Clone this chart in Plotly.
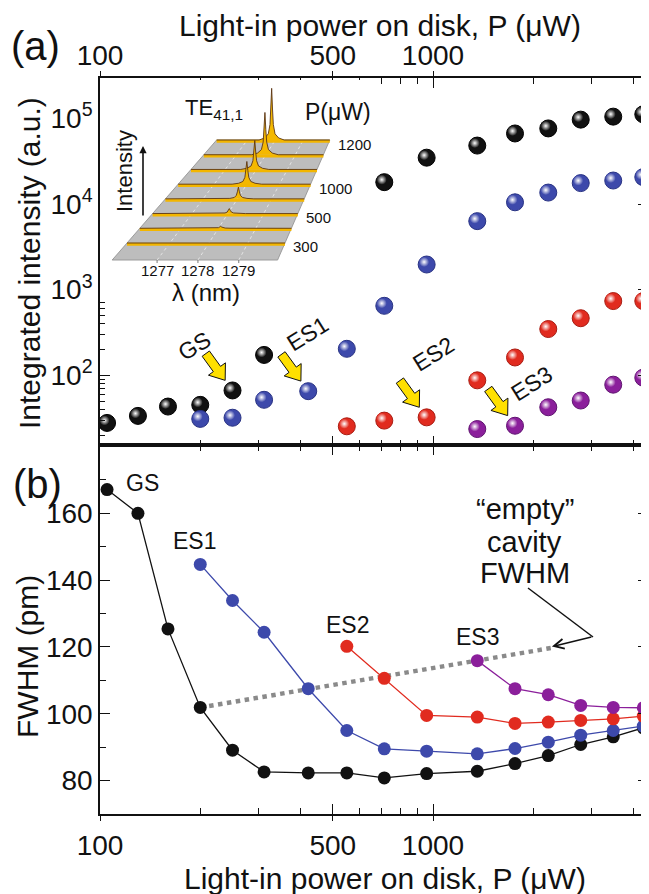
import math
import plotly.graph_objects as go

# ---------------- data ----------------
P = [105, 130, 160, 200, 250, 311, 422, 551, 714, 957, 1358, 1763, 2219, 2777, 3477, 4280]

# (a) integrated intensity
gs_int = [27.8, 33.6, 43.2, 45.2, 66.6, 173, 1358, 7160, 17990, 34750, 48100, 66600, 76300, 96600, 104700, 111400]
es1_P = P[3:]
es1_int = [31.0, 32.0, 51.8, 65.3, 204, 648, 1967, 6310, 10470, 13600, 17540, 18800, 20600]
es2_P = P[7:]
es2_int = [25.4, 29.6, 32.3, 87.4, 161.6, 347, 464, 736, 736]
es3_P = P[10:]
es3_int = [23.6, 25.8, 42.4, 50.8, 77.8, 94.0]

# (b) FWHM (pm)
gs_fwhm = [167.1, 160.0, 125.4, 101.9, 89.1, 82.6, 82.3, 82.3, 80.8, 82.1, 82.8, 85.1, 87.5, 90.8, 93.1, 95.8]
es1_fwhm = [144.7, 133.9, 124.4, 107.5, 95.0, 89.5, 88.8, 88.0, 89.6, 91.5, 93.6, 95.0, 96.3]
es2_fwhm = [120.2, 110.6, 99.5, 99.0, 97.1, 97.5, 98.0, 98.5, 99.3]
es3_fwhm = [115.9, 107.5, 105.7, 102.5, 101.9, 101.8]
empty_P = [200, 2270]
empty_fwhm = [101.9, 119.7]

# axis ticks
x_major = [100, 500, 1000]
x_minor = [200, 300, 400, 600, 700, 800, 900, 2000, 3000, 4000]
yt_major = [1e2, 1e3, 1e4, 1e5]
yt_text = ['10<sup>2</sup>', '10<sup>3</sup>', '10<sup>4</sup>', '10<sup>5</sup>']
yt_minor = [m * 10 ** e for e in range(1, 6) for m in range(2, 10) if 15 < m * 10 ** e < 3e5]
yb_major = [80, 100, 120, 140, 160]
yb_minor = [90, 110, 130, 150, 170]

# inset: waterfall spectra TE41,1
ins_peak_height = [0, 2, 5, 11.7, 22.7, 29, 42.3, 51.7]
ins_peak_lambda = [1278.05, 1278.06, 1278.04, 1278.03, 1278.0, 1277.95, 1277.97, 1277.87]
ins_profile_off = [-0.45, -0.25, -0.12, -0.06, -0.03, 0.0, 0.03, 0.06, 0.12, 0.25, 0.45]
ins_profile_rel = [0.0, 0.04, 0.12, 0.3, 0.6, 1.0, 0.6, 0.3, 0.12, 0.04, 0.0]
ins_lambda_ticks = [1277, 1278, 1279]
ins_power_idx = [0, 2, 4, 7]
ins_power_text = ['300', '500', '1000', '1200']

# ---------------- layout constants ----------------
# page body has an 8px margin: design in window pixels, figure is shifted by OFF
OFF = 8
FW, FH = 649 - OFF, 894 - OFF
X_LEFT, X_RIGHT, Y_TOP, Y_BOT = 100, 648, 78, 814   # plot frame in window pixels
ML, MT = X_LEFT - OFF, Y_TOP - OFF
MR, MB = FW - (X_RIGHT - OFF), FH - (Y_BOT - OFF)
PW = X_RIGHT - X_LEFT
PH = Y_BOT - Y_TOP
SPLIT = 0.5007
XR = [2.0, 3.6456]
YT = [1.181, 5.471]
YB = [70.0, 180.3]
FONT = 'Liberation Sans, Arial, sans-serif'

C_BLACK, C_BLUE, C_RED, C_PURPLE = '#111111', '#3d49ab', '#e12b1f', '#8b1f9b'
C_EDGE = {'#111111': '#000000', '#3d49ab': '#283283', '#e12b1f': '#a81c12', '#8b1f9b': '#5f1470'}


def paper(px, py):
    return (px - X_LEFT) / PW, (Y_BOT - py) / PH


def top_pix(p, i):
    x = X_LEFT + (math.log10(p) - XR[0]) / (XR[1] - XR[0]) * PW
    y = Y_TOP + (YT[1] - math.log10(i)) / (YT[1] - YT[0]) * (1 - SPLIT) * PH
    return x, y


fig = go.Figure()

# ---------------- (a) spheres ----------------
fx = 10 ** (-2.5 * (XR[1] - XR[0]) / PW)
fy = 10 ** (2.5 * (YT[1] - YT[0]) / ((1 - SPLIT) * PH))
for xs, ys, c in [(P, gs_int, C_BLACK), (es1_P, es1_int, C_BLUE),
                  (es2_P, es2_int, C_RED), (es3_P, es3_int, C_PURPLE)]:
    fig.add_trace(go.Scatter(x=xs, y=ys, mode='markers', xaxis='x', yaxis='y',
                             marker=dict(size=17, color=c, line=dict(width=1, color=C_EDGE[c]))))
    fig.add_trace(go.Scatter(x=[v * fx for v in xs], y=[v * fy for v in ys], mode='markers',
                             xaxis='x', yaxis='y',
                             marker=dict(size=10, color=c, line=dict(width=0),
                                         gradient=dict(type='radial', color='#ffffff'))))

# ---------------- (b) FWHM ----------------
fig.add_trace(go.Scatter(x=empty_P, y=empty_fwhm, mode='lines', xaxis='x2', yaxis='y2',
                         line=dict(color='#8a8a8a', width=4.5, dash='dot')))
for xs, ys, c in [(P, gs_fwhm, C_BLACK), (es1_P, es1_fwhm, C_BLUE),
                  (es2_P, es2_fwhm, C_RED), (es3_P, es3_fwhm, C_PURPLE)]:
    fig.add_trace(go.Scatter(x=xs, y=ys, mode='lines+markers', xaxis='x2', yaxis='y2',
                             line=dict(color=c, width=1.3),
                             marker=dict(size=13, color=c, line=dict(width=0))))

# empty traces for the outward tick nubs
fig.add_trace(go.Scatter(x=[], y=[], xaxis='x4', yaxis='y'))
fig.add_trace(go.Scatter(x=[], y=[], xaxis='x5', yaxis='y2'))

# ---------------- inset (waterfall) ----------------
LMIN, LMAX = 1275.9, 1279.95
DF, DB = -1.16, 7.0


def proj(lam, d, h=0.0):
    x0 = 127 + 12.8 * d
    x1 = 285 + 6.4 * d
    f = (lam - LMIN) / (LMAX - LMIN)
    return x0 + f * (x1 - x0), 243 - 14.71 * d - h


corners = [proj(LMIN, DF), proj(LMAX, DF), proj(LMAX, DB), proj(LMIN, DB), proj(LMIN, DF)]
fig.add_trace(go.Scatter(x=[c[0] for c in corners], y=[c[1] for c in corners], mode='lines',
                         fill='toself', fillcolor='#bdbdbd', line=dict(color='#8d8d8d', width=0.8),
                         xaxis='x3', yaxis='y3'))
for lam in ins_lambda_ticks:
    a, b = proj(lam, DF), proj(lam, DB)
    fig.add_trace(go.Scatter(x=[a[0], b[0]], y=[a[1], b[1]], mode='lines', xaxis='x3', yaxis='y3',
                             line=dict(color='rgba(255,255,255,0.75)', width=0.8, dash='dot')))
    t = proj(lam, DF)
    fig.add_trace(go.Scatter(x=[t[0], t[0]], y=[t[1], t[1] + 3], mode='lines', xaxis='x3', yaxis='y3',
                             line=dict(color='#555555', width=0.8)))

for i in reversed(range(len(ins_peak_height))):
    lams = [LMIN] + [ins_peak_lambda[i] + o for o in ins_profile_off] + [LMAX]
    hs = [0.0] + [ins_peak_height[i] * r for r in ins_profile_rel] + [0.0]
    pts = [proj(l, i, h) for l, h in zip(lams, hs)]
    a, b = proj(LMIN, i), proj(LMAX, i)
    fig.add_trace(go.Scatter(x=[a[0], b[0]], y=[a[1] + 1.3, b[1] + 1.3], mode='lines',
                             xaxis='x3', yaxis='y3', line=dict(color='#f3b600', width=3)))
    if ins_peak_height[i] > 0:
        fig.add_trace(go.Scatter(x=[p[0] for p in pts], y=[p[1] for p in pts], mode='lines',
                                 fill='toself', fillcolor='#f4b800', line=dict(width=0),
                                 xaxis='x3', yaxis='y3'))
    fig.add_trace(go.Scatter(x=[p[0] for p in pts], y=[p[1] for p in pts], mode='lines',
                             xaxis='x3', yaxis='y3', line=dict(color='#5b3515', width=0.9)))

annotations = []
shapes = []


def txt(text, x, y, size, xref='paper', yref='paper', **kw):
    d = dict(text=text, x=x, y=y, xref=xref, yref=yref, showarrow=False,
             xanchor='center', yanchor='middle',
             font=dict(family=FONT, size=size, color='#111111'))
    d.update(kw)
    annotations.append(d)


# inset texts
txt('Intensity', 125, 171, 22, 'x3', 'y3', textangle=-90)
annotations.append(dict(x=143, y=146, ax=143, ay=217, xref='x3', yref='y3', axref='x3', ayref='y3',
                        showarrow=True, arrowhead=2, arrowsize=0.9, arrowwidth=1.6,
                        arrowcolor='#111111', text=''))
txt('TE<sub>41,1</sub>', 214, 109, 22, 'x3', 'y3')
txt('P(\u03bcW)', 338, 112, 23, 'x3', 'y3')
for lam in ins_lambda_ticks:
    t = proj(lam, DF)
    txt(str(lam), t[0], 270, 15, 'x3', 'y3')
txt('\u03bb (nm)', 206, 292, 24, 'x3', 'y3')
for idx, lab in zip(ins_power_idx, ins_power_text):
    t = proj(LMAX, idx)
    txt(lab, t[0] + 6, t[1] + 4, 15, 'x3', 'y3', xanchor='left')

# yellow block arrows + labels in (a)
arrow_pts = [(P[4], gs_int[4], 'GS', -38, 44), (es1_P[3], es1_int[3], 'ES1', -1, 57),
             (es2_P[2], es2_int[2], 'ES2', 7, 63), (es3_P[1], es3_int[1], 'ES3', 16, 42)]
ang = math.radians(54)
ux, uy = math.cos(ang), math.sin(ang)
nx, ny = -uy, ux
for p, iv, lab, dx, dy in arrow_pts:
    cx, cy = top_pix(p, iv)
    tip = (cx - 12.5 * ux, cy - 12.5 * uy)
    L, sw, hw, hl = 33, 4.5, 10.5, 14
    tail = (tip[0] - L * ux, tip[1] - L * uy)
    neck = (tip[0] - hl * ux, tip[1] - hl * uy)
    poly = [(tail[0] + sw * nx, tail[1] + sw * ny), (neck[0] + sw * nx, neck[1] + sw * ny),
            (neck[0] + hw * nx, neck[1] + hw * ny), tip,
            (neck[0] - hw * nx, neck[1] - hw * ny), (neck[0] - sw * nx, neck[1] - sw * ny),
            (tail[0] - sw * nx, tail[1] - sw * ny)]
    path = 'M ' + ' L '.join('%.4f,%.4f' % paper(*q) for q in poly) + ' Z'
    shapes.append(dict(type='path', path=path, xref='paper', yref='paper',
                       fillcolor='#ffe000', line=dict(color='#111111', width=1)))
    txt(lab, math.log10(p), math.log10(iv), 23, 'x', 'y', xshift=dx, yshift=dy, textangle=-32)

# (b) labels
txt('GS', math.log10(133.7), 169.2, 23, 'x2', 'y2')
txt('ES1', math.log10(191.8), 151.6, 23, 'x2', 'y2')
txt('ES2', math.log10(553), 126.7, 23, 'x2', 'y2')
txt('ES3', math.log10(1359), 123.0, 23, 'x2', 'y2')
txt('\u201cempty\u201d', math.log10(1888), 161.4, 29, 'x2', 'y2')
txt('cavity', math.log10(1888), 151.5, 29, 'x2', 'y2')
txt('FWHM', math.log10(1888), 142.2, 29, 'x2', 'y2')
a0, a1 = paper(528, 588), paper(593, 637)
shapes.append(dict(type='line', xref='paper', yref='paper', x0=a0[0], y0=a0[1], x1=a1[0], y1=a1[1],
                   line=dict(color='#111111', width=1.5)))
annotations.append(dict(x=math.log10(2275), y=120.1, xref='x2', yref='y2', ax=41, ay=-10,
                        showarrow=True, arrowhead=5, arrowsize=1.3, arrowwidth=1.5,
                        arrowcolor='#111111', text=''))

# titles and panel labels
xt = paper(380, 25)
txt('Light-in power on disk, P (\u03bcW)', xt[0], xt[1], 30)
xb = paper(385, 878)
txt('Light-in power on disk, P (\u03bcW)', xb[0], xb[1], 30)
ya = paper(29, 263)
txt('Integrated intensity (a.u.)', ya[0], ya[1], 30, textangle=-90)
yb = paper(27, 657)
txt('FWHM (pm)', yb[0], yb[1], 30, textangle=-90)
pa = paper(35, 46)
txt('(a)', pa[0], pa[1], 40)
pb = paper(37, 484)
txt('(b)', pb[0], pb[1], 40)

# ---------------- axes ----------------
tickfont = dict(family=FONT, size=28, color='#111111')
common_x = dict(type='log', range=XR, showgrid=False, zeroline=False, showline=True,
                linecolor='#111111', linewidth=1.6, mirror='ticks', ticks='inside',
                ticklen=10, tickwidth=1.4, tickcolor='#111111', tickvals=x_major,
                ticktext=[str(v) for v in x_major], tickfont=tickfont,
                minor=dict(tickvals=x_minor, ticks='inside', ticklen=6, tickwidth=1.1,
                           tickcolor='#111111'))
nub = dict(type='log', range=XR, showgrid=False, zeroline=False, showline=False,
           ticks='outside', ticklen=6, tickwidth=1.4, tickcolor='#111111', tickvals=x_major,
           showticklabels=False)

fig.update_layout(
    width=FW, height=FH, showlegend=False,
    margin=dict(l=ML, r=MR, t=MT, b=MB, autoexpand=False),
    plot_bgcolor='white', paper_bgcolor='white',
    xaxis=dict(common_x, domain=[0, 1], anchor='y', side='top'),
    xaxis2=dict(common_x, domain=[0, 1], anchor='y2', side='bottom', ticklabelstandoff=6),
    xaxis4=dict(nub, overlaying='x', anchor='y', side='top'),
    xaxis5=dict(nub, overlaying='x2', anchor='y2', side='bottom'),
    yaxis=dict(type='log', range=YT, domain=[SPLIT, 1], anchor='x', showgrid=False,
               zeroline=False, showline=True, linecolor='#111111', linewidth=1.6,
               mirror='ticks', ticks='inside', ticklen=10, tickwidth=1.4, tickcolor='#111111',
               tickvals=yt_major, ticktext=yt_text, tickfont=tickfont,
               minor=dict(tickvals=yt_minor, ticks='inside', ticklen=5, tickwidth=1.0,
                          tickcolor='#111111')),
    yaxis2=dict(range=YB, domain=[0, SPLIT], anchor='x2', showgrid=False, zeroline=False,
                showline=True, linecolor='#111111', linewidth=1.6, mirror='ticks',
                ticks='inside', ticklen=10, tickwidth=1.4, tickcolor='#111111',
                tickvals=yb_major, tickfont=tickfont,
                minor=dict(tickvals=yb_minor, ticks='inside', ticklen=6, tickwidth=1.1,
                           tickcolor='#111111')),
    xaxis3=dict(range=[100, 370], domain=[paper(100, 0)[0], paper(370, 0)[0]], anchor='y3',
                visible=False, fixedrange=True),
    yaxis3=dict(range=[300, 80], domain=[paper(0, 300)[1], paper(0, 80)[1]], anchor='x3',
                visible=False, fixedrange=True),
    annotations=annotations,
    shapes=shapes,
)

fig.write_html('out.html')
